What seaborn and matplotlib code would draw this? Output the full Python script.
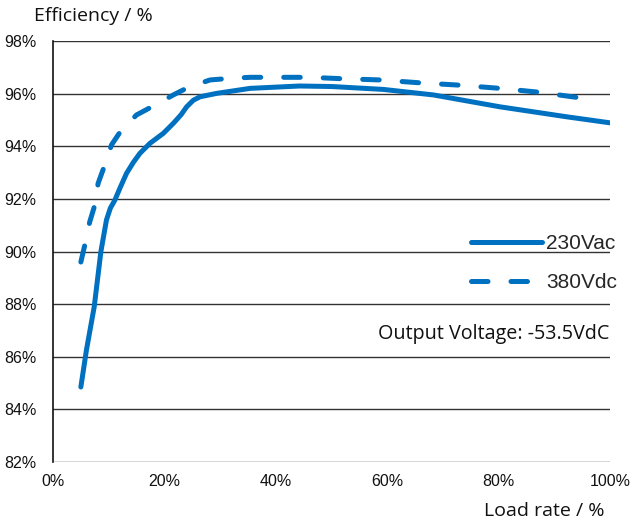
import pandas as pd
import numpy as np
import matplotlib
matplotlib.use('Agg')
import matplotlib.pyplot as plt
import seaborn as sns

# efficiency curves
load_230 = [5, 6.0, 7.4, 8.6, 9.6, 10.3, 11.1, 12.0, 13.2, 14.4, 15.6, 17.4, 19.8, 21.6, 23.0, 24.0, 25.2, 26.4, 29.4, 35.4, 44.3, 50, 59.3, 68.3, 80.2, 92.2, 100]
eff_230 = [84.85, 86.25, 87.9, 90.0, 91.2, 91.65, 91.95, 92.4, 92.97, 93.38, 93.73, 94.11, 94.49, 94.87, 95.2, 95.5, 95.75, 95.88, 96.01, 96.2, 96.29, 96.27, 96.16, 95.95, 95.5, 95.12, 94.89]

load_380 = [5, 5.7, 6.6, 7.5, 8.1, 9.3, 10.5, 12.3, 15.0, 18.0, 21.6, 24.3, 28.2, 31.8, 35.4, 46.1, 51.5, 58.7, 65.9, 73.1, 80.2, 87.4, 94.6, 97]
eff_380 = [89.6, 90.24, 91.13, 91.76, 92.59, 93.29, 94.05, 94.62, 95.19, 95.53, 95.95, 96.24, 96.52, 96.58, 96.62, 96.62, 96.57, 96.52, 96.41, 96.32, 96.2, 96.05, 95.84, 95.79]

x_ticks = [0, 20, 40, 60, 80, 100]
y_ticks = [82, 84, 86, 88, 90, 92, 94, 96, 98]

df = pd.concat([
    pd.DataFrame({'load': load_230, 'eff': eff_230, 'series': '230Vac'}),
    pd.DataFrame({'load': load_380, 'eff': eff_380, 'series': '380Vdc'}),
])

sns.set_style('white')
plt.rcParams['font.family'] = ['Liberation Sans', 'DejaVu Sans']

blue = '#0070C0'
fig = plt.figure(figsize=(6.32, 5.25), dpi=100)
ax = fig.add_axes([53 / 632, 1 - 462 / 525, 557 / 632, 421 / 525])

sns.lineplot(data=df, x='load', y='eff', style='series', dashes={'230Vac': '', '380Vdc': (3.3, 4.6)},
             color=blue, linewidth=3.6, sort=False, legend=False, ax=ax,
             solid_capstyle='round', dash_capstyle='round', solid_joinstyle='round')

ax.set_xlim(0, 100)
ax.set_ylim(82, 98)
ax.set_xticks(x_ticks)
ax.set_xticklabels([f'{t}%' for t in x_ticks])
ax.set_yticks(y_ticks)
ax.set_yticklabels([f'{t}%' for t in y_ticks])
ax.tick_params(axis='both', length=0, labelsize=11.5, colors='#111111')
ax.tick_params(axis='x', pad=9)
ax.tick_params(axis='y', pad=12)
ax.grid(axis='y', color='#333333', linewidth=1)
ax.set_xlabel('')
ax.set_ylabel('')
for s in ['top', 'right', 'bottom']:
    ax.spines[s].set_visible(False)
ax.spines['left'].set_color('#111111')
ax.spines['left'].set_linewidth(1.2)

lines = ax.get_lines()
leg = ax.legend(lines[:2], ['230Vac', '380Vdc'], loc='center left', bbox_to_anchor=(461 / 632, 1 - 263 / 525),
                bbox_transform=fig.transFigure, frameon=False, fontsize=15, handlelength=3.4,
                handletextpad=0.2, labelspacing=0.95, borderpad=0)

fig.text(609 / 632, 1 - 334 / 525, 'Output Voltage: -53.5VdC', ha='right', va='center',
         fontsize=14.2, family=['Open Sans', 'DejaVu Sans'], color='#111111')
fig.text(34 / 632, 1 - 16 / 525, 'Efficiency / %', ha='left', va='center',
         fontsize=14, family=['Open Sans', 'DejaVu Sans'], color='#111111')
fig.text(605 / 632, 1 - 511 / 525, 'Load rate / %', ha='right', va='center',
         fontsize=14, family=['Open Sans', 'DejaVu Sans'], color='#111111')

fig.savefig('out.png', dpi=100)
